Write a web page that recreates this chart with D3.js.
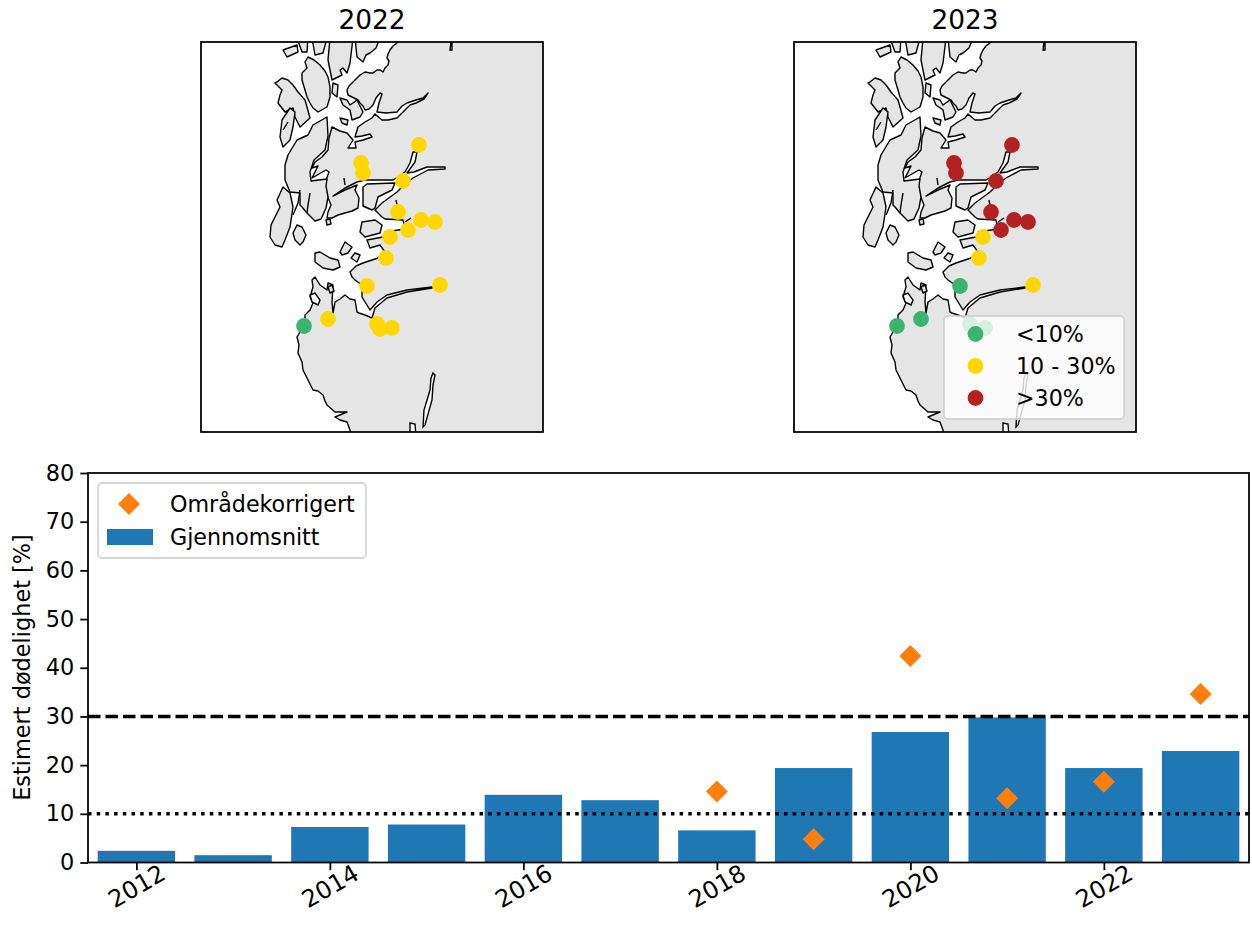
<!DOCTYPE html>
<html>
<head>
<meta charset="utf-8">
<script src="https://cdn.jsdelivr.net/npm/d3@7"></script>
<style>
body { margin: 0; background: #fff; }
text { font-family: "DejaVu Sans", sans-serif; fill: #000; }
</style>
</head>
<body>
<script>
// Bar chart values
var years = [2012, 2013, 2014, 2015, 2016, 2017, 2018, 2019, 2020, 2021, 2022, 2023];
var meanMortality = [2.4, 1.5, 7.3, 7.8, 13.9, 12.8, 6.6, 19.4, 26.8, 29.8, 19.4, 22.9];
var correctedYears = [2018, 2019, 2020, 2021, 2022, 2023];
var correctedMortality = [14.6, 4.8, 42.4, 13.2, 16.6, 34.6];
var yTicks = [0, 10, 20, 30, 40, 50, 60, 70, 80];
var xTicks = [2012, 2014, 2016, 2018, 2020, 2022];
var thresholdHigh = 30, thresholdLow = 10;

// Map sites, digitised map units (x 201-543, y 42-432)
var siteX = [419, 361, 363, 403, 398, 421, 435, 408, 390, 386, 440, 367, 328, 304, 377, 380, 392];
var siteY = [145, 163, 173, 181, 212, 220, 222, 230, 237, 258, 285, 286, 319, 326, 324, 329, 328];
// 0: <10%, 1: 10-30%, 2: >30%
var status2022 = [1, 1, 1, 1, 1, 1, 1, 1, 1, 1, 1, 1, 1, 0, 1, 1, 1];
var status2023 = [2, 2, 2, 2, 2, 2, 2, 2, 1, 1, 1, 0, 0, 0, 0, 0, 0];
var statusColors = ["#3cb371", "#ffd700", "#b22222"];
var statusLabels = ["<10%", "10 - 30%", ">30%"];

// Coast outlines, same map units
var mainland = [[550,36],[398,36],[397,43],[393,46],[390,50],[388,54],[387,58],[389,61],[388,65],[385,68],[383,72],[380,70],[377,70],[373,73],[370,73],[365,72],[360,75],[356,79],[353,82],[349,86],[347,90],[348,95],[354,98],[358,100],[360,103],[363,106],[365,110],[369,109],[373,105],[376,98],[380,93],[382,94],[379,103],[377,112],[386,113],[397,112],[402,106],[407,103],[416,100],[423,98],[428,93],[424,99],[416,103],[410,105],[403,112],[397,118],[388,120],[382,120],[375,114],[372,118],[365,122],[358,127],[355,137],[362,136],[370,134],[372,137],[363,140],[355,142],[356,148],[348,148],[353,140],[347,133],[340,131],[332,127],[329,138],[328,150],[322,157],[315,162],[312,168],[318,166],[312,178],[326,170],[329,172],[325,183],[327,195],[331,205],[328,212],[327,218],[332,218],[338,215],[345,213],[352,211],[358,208],[359,198],[355,190],[357,185],[345,190],[333,196],[345,188],[357,182],[365,180],[393,180],[398,177],[405,172],[410,163],[413,152],[417,152],[415,162],[407,173],[414,172],[427,167],[445,167],[445,169],[428,170],[413,178],[405,184],[397,192],[382,203],[375,210],[382,217],[385,219],[403,220],[405,229],[385,232],[383,237],[367,240],[370,248],[380,245],[385,252],[378,258],[363,263],[356,266],[350,272],[352,277],[355,280],[362,285],[362,297],[370,310],[377,302],[387,295],[407,290],[432,287],[432,288],[407,292],[387,298],[375,308],[372,318],[365,315],[359,313],[357,312],[355,300],[350,299],[345,295],[340,299],[335,302],[333,313],[332,302],[333,285],[328,283],[327,290],[320,285],[315,277],[312,280],[313,287],[310,297],[313,303],[310,310],[305,315],[305,322],[303,327],[297,337],[299,345],[298,353],[302,362],[303,370],[309,382],[313,390],[318,391],[323,395],[325,401],[327,405],[335,412],[347,412],[335,417],[340,420],[347,422],[350,430],[351,436],[550,436]];
var islands = [
    [[355,38],[357,57],[363,62],[366,55],[370,53],[376,48],[380,38]],
    [[330,38],[328,60],[332,80],[342,75],[340,70],[343,68],[347,73],[350,63],[353,38]],
    [[283,50],[297,45],[298,52],[287,57]],
    [[297,38],[308,38],[307,52],[302,52]],
    [[312,38],[327,38],[323,53],[315,55]],
    [[308,57],[314,60],[320,65],[325,71],[328,77],[330,87],[330,97],[327,107],[318,112],[313,108],[310,103],[307,97],[305,90],[302,80],[302,73],[307,68],[305,62]],
    [[277,82],[282,78],[288,80],[293,85],[298,92],[305,100],[307,107],[310,118],[300,127],[295,117],[293,108],[285,112],[278,103],[280,95],[282,90],[275,83]],
    [[282,120],[290,108],[295,112],[293,127],[290,140],[283,147],[280,137]],
    [[333,83],[338,85],[337,97],[332,93]],
    [[340,98],[347,100],[350,105],[357,100],[363,112],[360,117],[352,120],[350,110],[343,105]],
    [[340,118],[348,120],[347,125],[342,123]],
    [[327,117],[313,125],[308,135],[297,140],[288,155],[285,165],[285,180],[290,192],[300,193],[300,205],[302,207],[307,213],[315,221],[321,219],[326,208],[328,197],[326,186],[327,179],[311,181],[310,172],[314,160],[325,150],[328,136]],
    [[283,187],[290,193],[293,207],[290,227],[285,240],[282,247],[275,245],[270,237],[271,225],[277,213],[280,207],[277,200]],
    [[293,233],[297,225],[302,227],[306,235],[303,242],[300,245],[295,240]],
    [[363,187],[367,184],[395,183],[392,190],[378,197],[375,208],[372,210],[363,206]],
    [[362,222],[375,220],[382,225],[380,233],[365,237],[360,232]],
    [[340,252],[345,242],[352,247],[348,253],[342,255]],
    [[351,258],[355,253],[360,255],[357,262]],
    [[315,253],[320,252],[330,258],[338,260],[340,267],[333,270],[323,268],[315,262]],
    [[328,287],[332,285],[334,291],[330,293]],
    [[326,220],[330,219],[331,224],[327,225]]
];
var lakes = [
    [[451,42],[452,43],[452,50],[450,50]],
    [[433,373],[435,375],[433,385],[432,400],[425,425],[423,427],[424,410],[430,390],[431,378]],
    [[410,423],[415,424],[416,436],[410,436]],
    [[310,295],[315,293],[320,300],[318,305],[312,302]]
];
var innerLines = [
    [[300,190],[298,203],[293,215]],
    [[310,193],[308,205],[307,213]],
    [[283,130],[288,122]],
    [[345,185],[344,178]],
    [[396,200],[397,205]],
    [[405,222],[411,218]]
];

var col = {land: "#e5e5e5", bar: "#1f77b4", diamond: "#ff7f0e", legendEdge: "#cccccc"};
var spine = 1.76, tickLen = 7.7, fontTick = 22.4, fontLegend = 22.2;

var svg = d3.select("body").append("svg")
    .attr("width", 1252)
    .attr("height", 927)
    .style("display", "block");

var defs = svg.append("defs");

function drawMap(id, left, title, status) {
    var top = 42, w = 342, h = 390;
    var x = d3.scaleLinear().domain([201, 543]).range([0, w]);
    var y = d3.scaleLinear().domain([42, 432]).range([0, h]);
    var line = d3.line().x(function(d) { return x(d[0]); }).y(function(d) { return y(d[1]); });

    defs.append("clipPath").attr("id", id)
        .append("rect").attr("width", w).attr("height", h);

    var g = svg.append("g").attr("transform", "translate(" + left + "," + top + ")");
    var map = g.append("g").attr("clip-path", "url(#" + id + ")");

    map.selectAll(".island")
        .data([mainland].concat(islands))
        .enter().append("path")
            .attr("class", "island")
            .attr("d", function(d) { return line(d) + "Z"; })
            .attr("fill", col.land)
            .attr("stroke", "#000")
            .attr("stroke-width", 1.4)
            .attr("stroke-linejoin", "round");
    map.selectAll(".lake")
        .data(lakes)
        .enter().append("path")
            .attr("class", "lake")
            .attr("d", function(d) { return line(d) + "Z"; })
            .attr("fill", "#fff")
            .attr("stroke", "#000")
            .attr("stroke-width", 1.4);
    map.selectAll(".inner")
        .data(innerLines)
        .enter().append("path")
            .attr("class", "inner")
            .attr("d", line)
            .attr("fill", "none")
            .attr("stroke", "#000")
            .attr("stroke-width", 1.4);
    map.selectAll(".site")
        .data(siteX)
        .enter().append("circle")
            .attr("class", "site")
            .attr("cx", function(d) { return x(d); })
            .attr("cy", function(d, i) { return y(siteY[i]); })
            .attr("r", 7.9)
            .attr("fill", function(d, i) { return statusColors[status[i]]; });

    g.append("rect")
        .attr("class", "frame")
        .attr("width", w)
        .attr("height", h)
        .attr("fill", "none")
        .attr("stroke", "#000")
        .attr("stroke-width", spine);

    g.append("text")
        .attr("x", w / 2)
        .attr("y", -13)
        .attr("text-anchor", "middle")
        .style("font-size", "26.4px")
        .text(title);
    return g;
}

drawMap("clip2022", 201, "2022", status2022);
var map2023 = drawMap("clip2023", 794, "2023", status2023);

// legend of the 2023 map
var mapLegend = map2023.append("g").attr("transform", "translate(150,274)");
mapLegend.append("rect")
    .attr("width", 180)
    .attr("height", 103)
    .attr("rx", 4)
    .attr("fill", "#fff")
    .attr("fill-opacity", 0.8)
    .attr("stroke", col.legendEdge)
    .attr("stroke-opacity", 0.8)
    .attr("stroke-width", 1.76);
statusLabels.forEach(function(label, i) {
    mapLegend.append("circle")
        .attr("cx", 31.5)
        .attr("cy", 18 + i * 32)
        .attr("r", 7.9)
        .attr("fill", statusColors[i]);
    mapLegend.append("text")
        .attr("x", 72)
        .attr("y", 26 + i * 32)
        .style("font-size", fontLegend + "px")
        .text(label);
});

// Bar chart
var margin = {left: 88, top: 473}, w = 1161, h = 389.5;
var chart = svg.append("g").attr("transform", "translate(" + margin.left + "," + margin.top + ")");
var xScale = d3.scaleLinear().domain([2011.5, 2023.5]).range([0, w]);
var yScale = d3.scaleLinear().domain([0, 80]).range([h, 0]);
var barWidth = xScale(2012.8) - xScale(2012);

chart.selectAll(".bar")
    .data(years)
    .enter().append("rect")
        .attr("class", "bar")
        .attr("x", function(d) { return xScale(d) - barWidth / 2; })
        .attr("y", function(d, i) { return yScale(meanMortality[i]); })
        .attr("width", barWidth)
        .attr("height", function(d, i) { return h - yScale(meanMortality[i]); })
        .attr("fill", col.bar);

chart.append("line")
    .attr("x1", 0).attr("x2", w)
    .attr("y1", yScale(thresholdHigh)).attr("y2", yScale(thresholdHigh))
    .attr("stroke", "#000")
    .attr("stroke-width", 3.5)
    .attr("stroke-dasharray", "12.5,5");
chart.append("line")
    .attr("x1", 0).attr("x2", w)
    .attr("y1", yScale(thresholdLow)).attr("y2", yScale(thresholdLow))
    .attr("stroke", "#000")
    .attr("stroke-width", 3.5)
    .attr("stroke-dasharray", "3.5,5.2");

var diamond = function(cx, cy, r) {
    return "M" + cx + "," + (cy - r) + "L" + (cx + r) + "," + cy + "L" + cx + "," + (cy + r) + "L" + (cx - r) + "," + cy + "Z";
};
chart.selectAll(".corrected")
    .data(correctedYears)
    .enter().append("path")
        .attr("class", "corrected")
        .attr("d", function(d, i) { return diamond(xScale(d), yScale(correctedMortality[i]), 11); })
        .attr("fill", col.diamond);

// axes
var xAxis = chart.append("g")
    .attr("transform", "translate(0," + h + ")")
    .call(d3.axisBottom(xScale).tickValues(xTicks).tickFormat(d3.format("d")).tickSize(tickLen));
var yAxis = chart.append("g")
    .call(d3.axisLeft(yScale).tickValues(yTicks).tickSize(tickLen).tickPadding(6));

chart.selectAll(".tick line").attr("stroke", "#000").attr("stroke-width", spine);
chart.selectAll(".domain").remove();
chart.selectAll(".tick text").style("font-size", fontTick + "px").attr("fill", "#000");
xAxis.selectAll(".tick text")
    .style("font-size", "24px")
    .attr("y", 0)
    .attr("dy", 0)
    .attr("text-anchor", "middle")
    .attr("dominant-baseline", "central")
    .attr("transform", "translate(0,24) rotate(-30)");

chart.append("rect")
    .attr("width", w)
    .attr("height", h)
    .attr("fill", "none")
    .attr("stroke", "#000")
    .attr("stroke-width", spine);

svg.append("text")
    .attr("transform", "translate(30,667.5) rotate(-90)")
    .attr("text-anchor", "middle")
    .style("font-size", fontTick + "px")
    .text("Estimert dødelighet [%]");

// legend of the bar chart
var barLegend = chart.append("g").attr("transform", "translate(10,10)");
barLegend.append("rect")
    .attr("width", 268)
    .attr("height", 75)
    .attr("rx", 4)
    .attr("fill", "#fff")
    .attr("fill-opacity", 0.8)
    .attr("stroke", col.legendEdge)
    .attr("stroke-opacity", 0.8)
    .attr("stroke-width", 1.76);
barLegend.append("path")
    .attr("d", diamond(31, 21, 11))
    .attr("fill", col.diamond);
barLegend.append("rect")
    .attr("x", 9)
    .attr("y", 46)
    .attr("width", 46)
    .attr("height", 16)
    .attr("fill", col.bar);
barLegend.append("text")
    .attr("x", 72).attr("y", 29)
    .style("font-size", fontLegend + "px")
    .text("Områdekorrigert");
barLegend.append("text")
    .attr("x", 72).attr("y", 62)
    .style("font-size", fontLegend + "px")
    .text("Gjennomsnitt");
</script>
</body>
</html>
